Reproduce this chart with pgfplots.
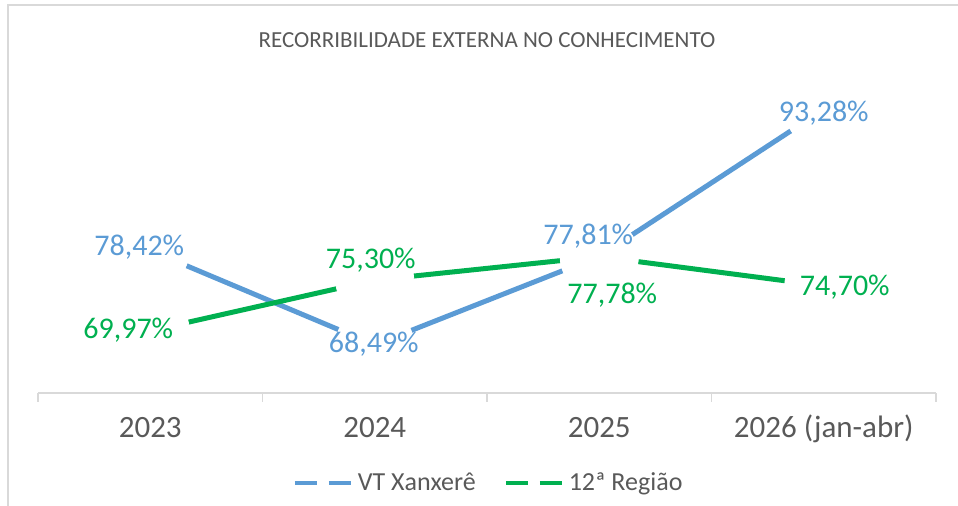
\documentclass[border=0pt]{standalone}
\usepackage{fontspec}
\setmainfont{Carlito}
\usepackage{pgfplots}
\usepackage{pgfplotstable}
\pgfplotsset{compat=1.18}
\definecolor{vtblue}{HTML}{5B9BD5}
\definecolor{regreen}{HTML}{00B050}
\definecolor{labgray}{HTML}{595959}
\definecolor{axisgray}{HTML}{D9D9D9}

% x y dx dy : label offsets in pt
\pgfplotstableread{
x y dx dy
0 78.42 -5.5 2.5
1 68.49 -0.5 1.5
2 77.81 -5.5 11
3 93.28 0 -1
}\vtdata
\pgfplotstableread{
x y dx dy
0 69.97 -11 1
1 75.30 -2 11
2 77.78 6.5 -18.5
3 74.70 10.5 0.5
}\regdata

\begin{document}
\begin{tikzpicture}
\path[use as bounding box] (0,0) rectangle (479pt,253pt);
\draw[axisgray, line width=1pt] (4pt,0) -- (4pt,250.5pt) -- (479pt,250.5pt);
\begin{axis}[
  at={(19pt,56.5pt)}, anchor=south west,
  scale only axis, width=449pt, height=161.5pt,
  xmin=-0.5, xmax=3.5, ymin=63.42, ymax=97.42,
  hide y axis,
  axis x line*=bottom,
  x axis line style={draw=axisgray, line width=0.75pt},
  xtick={0,1,2,3},
  xticklabels={2023,2024,2025,2026 (jan-abr)},
  major tick length=0pt,
  minor xtick={-0.5,0.5,1.5,2.5,3.5},
  minor tick length=4.5pt, tick align=outside,
  minor tick style={draw=axisgray, line width=0.75pt},
  xticklabel style={font=\fontsize{15.5}{15.5}\selectfont, text=labgray, anchor=base, yshift=-22.5pt},
  title={RECORRIBILIDADE EXTERNA NO CONHECIMENTO},
  title style={at={(0.5,1.055)}, anchor=center, font=\fontsize{11.5}{11.5}\selectfont, text=labgray},
  clip=false,
  legend style={at={(0.503,-0.2786)}, anchor=center, draw=none, fill=none,
    legend columns=2, font=\fontsize{13}{13}\selectfont, text=labgray,
    /tikz/every even column/.append style={column sep=12pt}},
  legend image code/.code={\draw[#1, line width=2pt, dash pattern=on 11pt off 6pt] (0pt,0pt) -- (28.5pt,0pt);},
  /pgf/number format/assume math mode=true,
  /pgf/number format/use comma,
  /pgf/number format/fixed,
  /pgf/number format/fixed zerofill,
  /pgf/number format/precision=2,
]
% lines
\addplot[vtblue, line width=2.5pt, mark=none] table[x=x, y=y] {\vtdata};
\addplot[regreen, line width=2.5pt, mark=none] table[x=x, y=y] {\regdata};
\legend{VT Xanxerê, 12ª Região}
% white masks round the points
\addplot[forget plot, white, only marks, mark=*, mark size=19.5pt] table[x=x, y=y] {\vtdata};
\addplot[forget plot, white, only marks, mark=*, mark size=19.5pt] table[x=x, y=y] {\regdata};
% data labels
\addplot[forget plot, draw=none, mark=none,
  visualization depends on={\thisrow{dx}\as\dx},
  visualization depends on={\thisrow{dy}\as\dy},
  nodes near coords={\pgfmathprintnumber{\pgfplotspointmeta}\%},
  every node near coord/.append style={anchor=center, text depth=0pt, xshift=\dx pt, yshift=\dy pt,
    text=vtblue, font=\fontsize{15}{15}\selectfont}]
  table[x=x, y=y] {\vtdata};
\addplot[forget plot, draw=none, mark=none,
  visualization depends on={\thisrow{dx}\as\dx},
  visualization depends on={\thisrow{dy}\as\dy},
  nodes near coords={\pgfmathprintnumber{\pgfplotspointmeta}\%},
  every node near coord/.append style={anchor=center, text depth=0pt, xshift=\dx pt, yshift=\dy pt,
    text=regreen, font=\fontsize{15}{15}\selectfont}]
  table[x=x, y=y] {\regdata};
\end{axis}
\end{tikzpicture}
\end{document}
